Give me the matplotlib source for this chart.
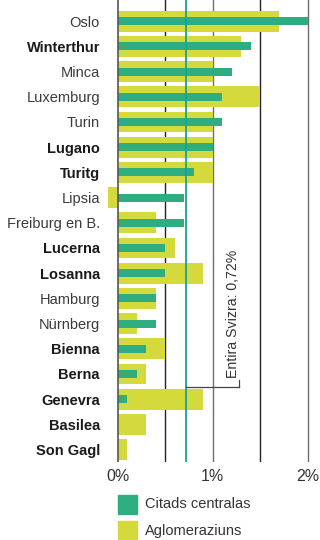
import matplotlib
matplotlib.use("Agg")
import matplotlib.pyplot as plt
from matplotlib.patches import Rectangle

# Growth rates by city (percent per year)
cities = ["Oslo", "Winterthur", "Minca", "Luxemburg", "Turin", "Lugano", "Turitg",
          "Lipsia", "Freiburg en B.", "Lucerna", "Losanna", "Hamburg", "Nürnberg",
          "Bienna", "Berna", "Genevra", "Basilea", "Son Gagl"]
swiss = {"Winterthur", "Lugano", "Turitg", "Lucerna", "Losanna", "Bienna",
         "Berna", "Genevra", "Basilea", "Son Gagl"}
citads_centralas = [2.0, 1.4, 1.2, 1.1, 1.1, 1.0, 0.8, 0.7, 0.7, 0.5, 0.5, 0.4, 0.4,
                    0.3, 0.2, 0.1, 0.0, 0.0]
aglomeraziuns = [1.7, 1.3, 1.0, 1.5, 1.0, 1.0, 1.0, -0.1, 0.4, 0.6, 0.9, 0.4, 0.2,
                 0.5, 0.3, 0.9, 0.3, 0.1]
svizra = 0.72
xticks = [0, 1, 2]
xtick_labels = ["0%", "1%", "2%"]

plt.rcParams["font.family"] = ["Liberation Sans", "DejaVu Sans"]

C_CITY = "#2eae80"
C_AGG = "#d4d93c"
C_REF = "#17a394"

fig = plt.figure(figsize=(3.2, 5.4), dpi=100)
ax = fig.add_axes([0.332, 0.145, 0.636, 0.855])

y = list(range(len(cities)))
ax.barh(y, aglomeraziuns, height=0.83, color=C_AGG, zorder=2)
ax.barh(y, citads_centralas, height=0.32, color=C_CITY, zorder=3)

# grid lines
for gx, gc in [(0.5, "#222222"), (1.0, "#6e6e6e"), (1.5, "#222222"), (2.0, "#6e6e6e")]:
    ax.axvline(gx, color=gc, lw=1.0, zorder=1)
ax.axvline(0, color="#555555", lw=1.2, zorder=4)
ax.axvline(svizra, color=C_REF, lw=1.3, zorder=5)

# annotation for the Swiss average
y_hook = 14.52
x_hook = 1.277
ax.plot([svizra, x_hook], [y_hook, y_hook], color="#444444", lw=0.9, zorder=5)
ax.plot([x_hook, x_hook], [y_hook, 14.24], color="#444444", lw=0.9, zorder=5)
ax.text(1.215, 14.15, "Entira Svizra: 0,72%", rotation=90, ha="center", va="bottom",
        fontsize=10.2, color="#333333", zorder=6)

ax.set_xlim(-0.12, 2.02)
ax.set_ylim(17.48, -0.84)
ax.set_xticks(xticks)
ax.set_xticklabels(xtick_labels, fontsize=11.5, color="#333333")
ax.set_yticks(y)
ax.set_yticklabels(cities, fontsize=10.5)
for lbl in ax.get_yticklabels():
    if lbl.get_text() in swiss:
        lbl.set_fontweight("bold")
        lbl.set_color("#1a1a1a")
    else:
        lbl.set_color("#3a3a3a")
ax.tick_params(axis="y", length=0, pad=4.5)
ax.tick_params(axis="x", length=0, pad=5)
for s in ax.spines.values():
    s.set_visible(False)

# legend
W, H = 320, 540
def add_key(px, py, color, label):
    fig.patches.append(Rectangle((px / W, 1 - (py + 19) / H), 19 / W, 19 / H,
                                 transform=fig.transFigure, color=color))
    fig.text((px + 27) / W, 1 - (py + 9.5) / H, label, fontsize=10.5,
             color="#333333", va="center", ha="left")

add_key(118, 495, C_CITY, "Citads centralas")
add_key(118, 521, C_AGG, "Aglomeraziuns")

fig.savefig("out.png", dpi=100)
